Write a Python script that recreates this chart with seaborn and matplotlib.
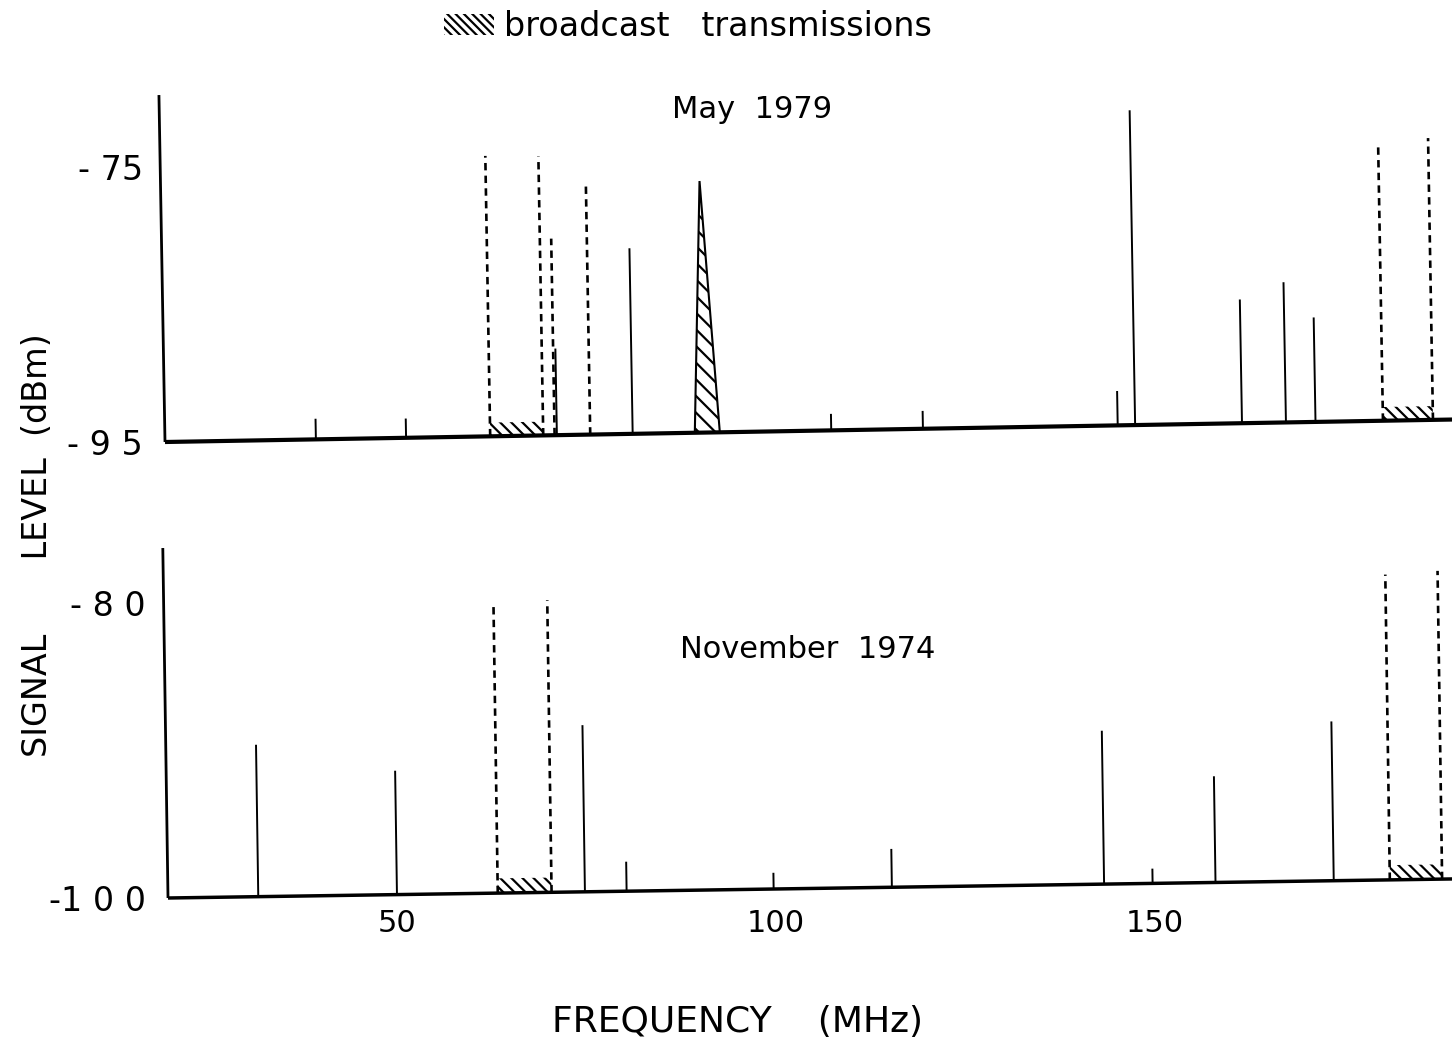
import matplotlib
matplotlib.use("Agg")
import matplotlib.pyplot as plt
import seaborn as sns
from matplotlib.transforms import Affine2D
from matplotlib.patches import Patch

# ---- May 1979 spectrum (frequency in MHz, level in dBm) ----
may_freq = [39.3, 51.2, 71.1, 81.1, 107.3, 119.4, 145.1, 147.4, 161.5, 167.3, 171.2]
may_level = [-93.5, -93.6, -88.7, -81.5, -93.8, -93.7, -92.5, -72.1, -86.0, -84.8, -87.4]
may_bc_freq = [62.3, 69.3, 70.8, 75.5, 180.1, 186.7]
may_bc_level = [-74.6, -74.7, -80.7, -76.9, -74.9, -74.5]
may_bands = [(62.3, 69.3), (180.1, 186.7)]
may_fm_freq = [89.3, 90.5, 92.6]
may_fm_level = -76.7

# ---- November 1974 spectrum ----
nov_freq = [31.7, 50.0, 74.8, 80.3, 99.7, 115.3, 143.3, 149.7, 158.0, 173.6]
nov_level = [-89.7, -91.6, -88.7, -98.0, -98.9, -97.4, -89.6, -99.0, -92.8, -89.2]
nov_bc_freq = [63.3, 70.4, 181.0, 187.9]
nov_bc_level = [-80.45, -80.2, -79.3, -79.1]
nov_bands = [(63.3, 70.4), (181.0, 187.9)]

x_ticks = [50, 100, 150]
x_ticklabels = ["50", "100", "150"]
may_yticks = [-95, -75]
may_yticklabels = ["- 9 5", "- 75"]
nov_yticks = [-100, -80]
nov_yticklabels = ["-1 0 0", "- 8 0"]

sns.set_theme(style="white", rc={"text.color": "black", "xtick.color": "black",
                                 "ytick.color": "black", "axes.labelcolor": "black"})
plt.rcParams["font.family"] = ["DejaVu Sans"]
plt.rcParams["hatch.linewidth"] = 1.6

W, H = 1452, 1047
fig = plt.figure(figsize=(W / 100, H / 100), dpi=100)
fig.patch.set_facecolor("white")


def px_axes(left, bottom, right, top):
    return fig.add_axes([left / W, 1 - bottom / H, (right - left) / W, (bottom - top) / H])


ax_may = px_axes(165, 442, 1470, 95)
ax_nov = px_axes(168, 898, 1470, 548)
ax_may.set_xlim(19.39, 191.56)
ax_may.set_ylim(-95, -69.76)
ax_nov.set_xlim(19.79, 191.56)
ax_nov.set_ylim(-100, -76.27)

DASH = (0, (2.8, 2.0))
BAND_HATCH = "\\\\\\"


def draw_panel(ax, base, f, lv, bc_f, bc_l, bands, base_lw):
    ax.set_facecolor("none")
    ax.vlines(f, base, lv, colors="black", lw=1.4)
    ax.vlines(bc_f, base, bc_l, colors="black", lw=1.9, linestyles=[DASH])
    for lo, hi in bands:
        ax.fill_between([lo, hi], base, base + 1.0, facecolor="none",
                        edgecolor="black", hatch=BAND_HATCH, lw=0)
    xlo, xhi = ax.get_xlim()
    ylo, yhi = ax.get_ylim()
    ax.plot([xlo, xhi], [base, base], color="black", lw=base_lw, solid_capstyle="butt")
    ax.plot([xlo, xlo], [base, yhi], color="black", lw=2.0, solid_capstyle="butt")
    sns.despine(ax=ax, left=True, bottom=True)
    ax.grid(False)


draw_panel(ax_may, -95, may_freq, may_level, may_bc_freq, may_bc_level, may_bands, 3.0)
ax_may.fill(may_fm_freq, [-95, may_fm_level, -95], facecolor="none",
            edgecolor="black", hatch="\\\\", lw=1.5)
draw_panel(ax_nov, -100, nov_freq, nov_level, nov_bc_freq, nov_bc_level, nov_bands, 2.5)

ax_may.set_xticks([])
ax_may.set_yticks(may_yticks, labels=may_yticklabels)
ax_nov.set_xticks(x_ticks, labels=x_ticklabels)
ax_nov.set_yticks(nov_yticks, labels=nov_yticklabels)
for ax in (ax_may, ax_nov):
    ax.tick_params(axis="y", length=0, pad=16, labelsize=24, labelcolor="black")
    ax.tick_params(axis="x", length=0, pad=8, labelsize=22, labelcolor="black")


def tilt(ax, deg):
    """Rotate the drawn traces slightly about the lower-left axis corner."""
    pos = ax.get_position()
    rot = Affine2D().rotate_deg_around(pos.x0 * W, pos.y0 * H, deg)
    for art in [*ax.lines, *ax.collections, *ax.patches]:
        art.set_transform(art.get_transform() + rot)
        art.set_clip_on(False)


tilt(ax_may, 1.0)
tilt(ax_nov, 0.85)

fig.text(752 / W, 1 - 110 / H, "May  1979", ha="center", va="center", fontsize=22)
fig.text(808 / W, 1 - 650 / H, "November  1974", ha="center", va="center", fontsize=22)
fig.text(737 / W, 1 - 1022 / H, "FREQUENCY    (MHz)", ha="center", va="center", fontsize=26)
fig.text(38 / W, 1 - 545 / H, "SIGNAL       LEVEL  (dBm)", ha="center", va="center",
         rotation=90, fontsize=24)

legend_handle = Patch(facecolor="none", edgecolor="black", hatch="\\\\\\\\", lw=0,
                      label="broadcast   transmissions")
fig.legend(handles=[legend_handle], loc="center", bbox_to_anchor=(688 / W, 1 - 27 / H),
           frameon=False, fontsize=24, handlelength=1.5, handleheight=0.6,
           handletextpad=0.3, borderpad=0)

fig.savefig("out.png", dpi=100, facecolor="white")
